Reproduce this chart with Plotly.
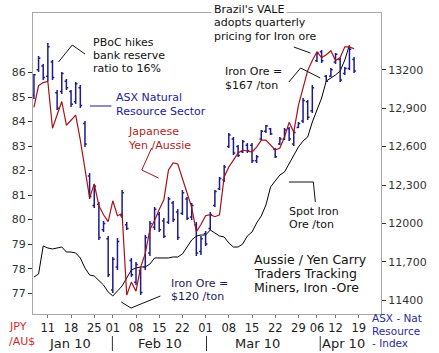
import plotly.graph_objects as go

# ---------------- data ----------------
calendar = [
    "2010-01-06", "2010-01-07", "2010-01-08",
    "2010-01-11", "2010-01-12", "2010-01-13", "2010-01-14", "2010-01-15",
    "2010-01-18", "2010-01-19", "2010-01-20", "2010-01-21", "2010-01-22",
    "2010-01-25", "2010-01-27", "2010-01-28", "2010-01-29",
    "2010-02-01", "2010-02-02", "2010-02-03", "2010-02-04", "2010-02-05",
    "2010-02-08", "2010-02-09", "2010-02-10", "2010-02-11", "2010-02-12",
    "2010-02-15", "2010-02-16", "2010-02-17", "2010-02-18", "2010-02-19",
    "2010-02-22", "2010-02-23", "2010-02-24", "2010-02-25", "2010-02-26",
    "2010-03-01", "2010-03-02", "2010-03-03", "2010-03-04", "2010-03-05",
    "2010-03-08", "2010-03-09", "2010-03-10", "2010-03-11", "2010-03-12",
    "2010-03-15", "2010-03-16", "2010-03-17", "2010-03-18", "2010-03-19",
    "2010-03-22", "2010-03-23", "2010-03-24", "2010-03-25", "2010-03-26",
    "2010-03-29", "2010-03-30", "2010-03-31", "2010-04-01",
    "2010-04-06", "2010-04-07", "2010-04-08", "2010-04-09",
    "2010-04-12", "2010-04-13", "2010-04-14", "2010-04-15", "2010-04-16",
    "2010-04-19",
]

jpy_aud = [84.58, 85.47, 85.59, 85.64, 83.73, 84.30, 84.82, 83.85, 84.05, 84.26,
           83.24, 82.00, 80.89, 81.46, 80.57, 80.20, 79.92, 80.77, 80.16, 80.24,
           76.92, 77.45, 77.08, 78.06, 78.62, 79.60, 79.96, 80.41, 80.81, 82.03,
           82.31, 82.27, 81.70, 81.10, 80.50, 79.51, 79.80, 80.16, 80.20, 80.12,
           80.20, 81.74, 82.15, 82.43, 82.72, 82.84, 82.80, 82.76, 82.96, 83.24,
           83.24, 83.04, 82.84, 82.92, 83.37, 83.97, 83.57, 84.66, 85.39, 86.08,
           86.49, 86.85, 86.61, 86.73, 86.89, 86.49, 86.61, 87.05, 87.05, 86.97]

asx_open = [13000, 13200, 13230, 13150, 13260, 13020, 13030, 13110, 13030, 12950,
            13060, 12780, 12370, 12140, 12150, 11950, 11880, 11480, 11660, 12060,
            11990, 11710, 11540, 11630, 11660, 11770, 11970, 12070, 12020, 12010,
            12160, 12090, 12080, 12190, 12050, 11990, 11780, 11920, 11960, 12140,
            12270, 12340, 12600, 12660, 12600, 12560, 12610, 12610, 12490, 12660,
            12720, 12740, 12580, 12620, 12660, 12740, 12620, 12750, 12800, 12950,
            12880, 13270, 13340, 13150, 13150, 13260, 13280, 13170, 13210, 13280]
asx_high = [13166, 13307, 13245, 13408, 13276, 13042, 13182, 13127, 13042, 13104,
            13081, 12800, 12394, 12308, 12167, 12019, 11902, 11738, 11886, 12261,
            12011, 11730, 11699, 11652, 11910, 12019, 12128, 12089, 12042, 12206,
            12175, 12113, 12261, 12206, 12159, 12011, 11902, 11941, 12089, 12261,
            12362, 12456, 12706, 12675, 12612, 12651, 12628, 12628, 12534, 12729,
            12768, 12745, 12589, 12675, 12745, 12753, 12729, 12792, 12979, 12964,
            13081, 13338, 13354, 13159, 13213, 13330, 13291, 13221, 13377, 13299]
asx_low = [12971, 13182, 13120, 13112, 13120, 12885, 13010, 13042, 12909, 12932,
           12901, 12597, 12191, 12120, 11871, 11933, 11582, 11457, 11636, 12042,
           11949, 11582, 11519, 11441, 11636, 11746, 11949, 11933, 11886, 11996,
           12011, 11871, 12066, 12027, 12027, 11746, 11754, 11824, 11949, 12128,
           12261, 12323, 12589, 12534, 12519, 12550, 12550, 12472, 12472, 12651,
           12706, 12690, 12511, 12612, 12651, 12643, 12604, 12745, 12784, 12807,
           12862, 13260, 13252, 13104, 13143, 13245, 13104, 13159, 13198, 13174]
asx_close = [13160, 13290, 13140, 13380, 13140, 12900, 13170, 13060, 12930, 13090,
             12920, 12620, 12210, 12290, 11890, 12000, 11600, 11720, 11860, 12240,
             11960, 11600, 11680, 11460, 11890, 12000, 12110, 11950, 11900, 12190,
             12030, 11890, 12240, 12040, 12140, 11770, 11880, 11840, 12070, 12250,
             12350, 12440, 12690, 12550, 12530, 12640, 12570, 12490, 12520, 12720,
             12760, 12700, 12520, 12660, 12730, 12660, 12710, 12780, 12960, 12830,
             13060, 13330, 13270, 13110, 13200, 13320, 13120, 13210, 13360, 13190]

iron_ore = [124.13, 124.79, 130.88, 130.44, 130.23, 130.44, 130.66, 129.57, 129.57, 129.36,
            128.27, 126.09, 124.57, 124.35, 123.26, 122.39, 120.87, 120.00, 121.09, 122.18,
            123.92, 125.66, 126.09, 126.31, 126.31, 126.96, 128.27, 128.27, 128.27, 128.27,
            128.49, 128.49, 129.14, 130.66, 132.19, 133.06, 133.27, 133.27, 134.36, 133.71,
            133.06, 132.84, 131.53, 130.66, 130.66, 131.32, 133.06, 133.93, 135.88, 137.41,
            139.80, 143.72, 145.02, 146.33, 146.98, 148.72, 150.68, 152.42, 153.73, 154.60,
            157.86, 160.47, 163.08, 166.78, 167.44, 168.09, 168.96, 171.35, 174.62]

week_tick_dates = ["2010-01-11", "2010-01-18", "2010-01-25", "2010-02-01", "2010-02-08",
                   "2010-02-15", "2010-02-22", "2010-03-01", "2010-03-08", "2010-03-15",
                   "2010-03-22", "2010-03-29", "2010-04-06", "2010-04-12", "2010-04-19"]
week_tick_text = ["11", "18", "25", "01", "08", "15", "22", "01", "08", "15",
                  "22", "29", "06", "12", "19"]

jpy_ticks = [77, 78, 79, 80, 81, 82, 83, 84, 85, 86]
asx_tickvals = [11400, 11700, 12000, 12300, 12600, 12900, 13200]
asx_ticktext = ["11400", "11,700", "12000", "12,300", "12,600", "12,900", "13200"]

# ---------------- figure ----------------
FONT = "DejaVu Sans"
RED = "#aa1018"
NAVY = "#1c1c8c"
GRID = "#a8a8a8"

xpos = list(range(len(calendar)))
tickvals = [calendar.index(d) for d in week_tick_dates]

fig = go.Figure()

fig.add_trace(go.Scatter(
    x=xpos[:len(iron_ore)], y=iron_ore, mode="lines",
    line=dict(color="#000000", width=1), yaxis="y", hoverinfo="skip",
    showlegend=False))

fig.add_trace(go.Ohlc(
    x=xpos[:len(asx_high)], open=asx_open, high=asx_high, low=asx_low, close=asx_close,
    increasing=dict(line=dict(color=NAVY, width=1.5)),
    decreasing=dict(line=dict(color=NAVY, width=1.5)),
    tickwidth=0.4, yaxis="y2", hoverinfo="skip", showlegend=False))

fig.add_trace(go.Scatter(
    x=xpos[:len(jpy_aud)], y=jpy_aud, mode="lines",
    line=dict(color=RED, width=1.2), yaxis="y3", hoverinfo="skip",
    showlegend=False))


def px_x(p):
    return (p - 32) / 355.0


def px_y(p):
    return (314 - p) / 301.0


annotations = []


def note(lines, left, cap_top, pitch, color="#111111", size=11, bg=None):
    for i, line in enumerate(lines):
        d = dict(text=line, xref="paper", yref="paper",
                 x=px_x(left), y=px_y(cap_top - 4 + i * pitch),
                 xanchor="left", yanchor="top", showarrow=False, align="left",
                 font=dict(family=FONT, size=size, color=color), borderpad=0)
        if bg:
            d["bgcolor"] = bg
            d["borderpad"] = 2
        annotations.append(d)


note(["PBoC hikes", "bank reserve", "ratio to 16%"], 92, 39, 13)
note(["ASX Natural", "Resource Sector"], 116, 94, 13.5, color="#23239a")
note(["Japanese", "Yen /Aussie"], 128, 128, 14, color="#b01c1c")
note(["Brazil's VALE", "adopts quarterly", "pricing for Iron ore"], 214, 4, 13.5, bg="white")
note(["Iron Ore =", "$167 /ton"], 227, 68, 14)
note(["Spot Iron", "Ore /ton"], 292, 208, 13)
note(["Aussie / Yen Carry", "Traders Tracking", "Miners, Iron -Ore"], 256, 255, 14, size=12.5)
note(["Iron Ore =", "$120 /ton"], 172, 280, 13, color="#1a1a55")
note(["JPY", "/AU$"], 6, 323, 15, color="#d42a2a")
note(["ASX - Nat", "Resource", "- Index"], 377, 315, 12.5, color="#2b2ba0", size=10.5)

for label, cx in [("Jan 10", 70), ("Feb 10", 162), ("Mar 10", 261), ("Apr 10", 349)]:
    annotations.append(dict(text=label, xref="paper", yref="paper", x=px_x(cx), y=px_y(334),
                            xanchor="center", yanchor="top", showarrow=False,
                            font=dict(family=FONT, size=13, color="#222222")))

shapes = []


def seg(points, color="#111111", width=1):
    for (x0, y0), (x1, y1) in zip(points[:-1], points[1:]):
        shapes.append(dict(type="line", xref="paper", yref="paper",
                           x0=px_x(x0), y0=px_y(y0), x1=px_x(x1), y1=px_y(y1),
                           line=dict(color=color, width=width)))


seg([(58, 62), (72, 45), (85, 54)])
seg([(90, 106), (112, 106)], color=NAVY)
seg([(153, 148), (143, 170), (160, 178)], color=RED)
seg([(298, 47), (315, 53)])
seg([(293, 82), (305, 68), (325, 78)])
seg([(320, 202), (318, 182), (293, 182)])
seg([(122, 302), (132, 308), (162, 296)])
for sx in [113, 209, 325]:
    seg([(sx, 336), (sx, 351)], color="#333333")

fig.update_layout(
    width=439, height=353,
    margin=dict(l=32, r=52, t=13, b=39, pad=0),
    paper_bgcolor="white", plot_bgcolor="white",
    showlegend=False,
    font=dict(family=FONT, size=11, color="#222222"),
    xaxis=dict(
        range=[-0.2, 74.8], showgrid=False, zeroline=False,
        showline=True, linecolor=GRID, linewidth=1, mirror=True,
        tickmode="array", tickvals=tickvals, ticktext=week_tick_text,
        ticks="outside", ticklen=3, tickcolor="#777777",
        tickfont=dict(family=FONT, size=11.5, color="#222222"),
        rangeslider=dict(visible=False),
    ),
    yaxis=dict(range=[116.08, 181.58], visible=False, fixedrange=True),
    yaxis2=dict(
        overlaying="y", side="right", range=[11293, 13643],
        showgrid=False, zeroline=False, showline=True, linecolor=GRID,
        tickmode="array", tickvals=asx_tickvals, ticktext=asx_ticktext,
        ticks="outside", ticklen=4, tickcolor="#333333",
        tickfont=dict(family=FONT, size=11, color="#333333"),
    ),
    yaxis3=dict(
        overlaying="y", side="left", range=[76.15, 88.43],
        showgrid=False, zeroline=False, showline=True, linecolor=GRID,
        tickmode="array", tickvals=jpy_ticks,
        ticks="outside", ticklen=4, tickcolor="#333333",
        tickfont=dict(family=FONT, size=11, color="#333333"),
    ),
    annotations=annotations,
    shapes=shapes,
)

fig.write_html("out.html")
